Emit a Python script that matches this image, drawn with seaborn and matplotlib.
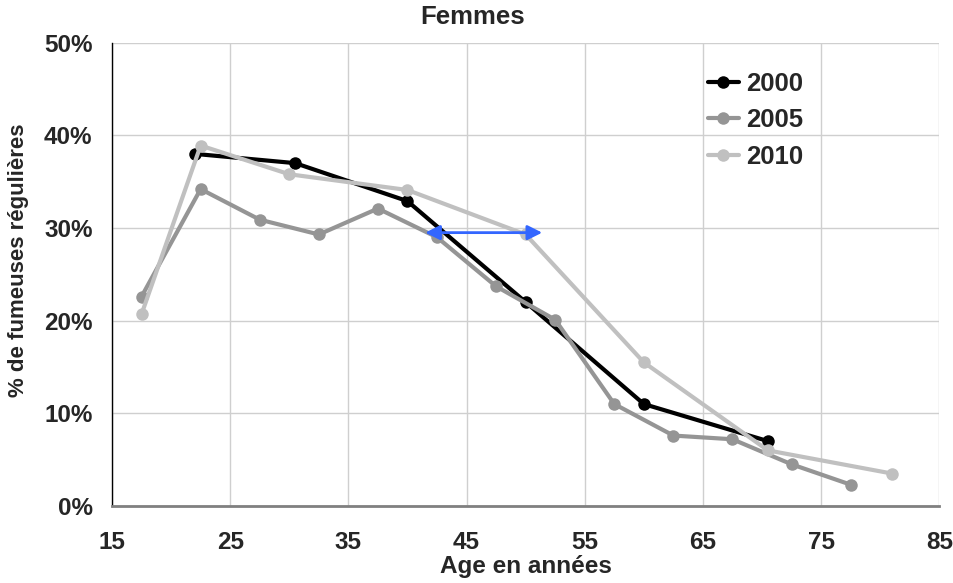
import matplotlib
matplotlib.use("Agg")
import matplotlib.pyplot as plt
from matplotlib.ticker import FuncFormatter, MultipleLocator
import pandas as pd
import seaborn as sns

# Share of regular female smokers by age, three survey years
ages_2000 = [22, 30.5, 40, 50, 60, 70.5]
pct_2000 = [38.0, 37.0, 32.9, 22.0, 11.0, 7.0]

ages_2005 = [17.5, 22.5, 27.5, 32.5, 37.5, 42.5, 47.5, 52.5, 57.5, 62.5, 67.5, 72.5, 77.5]
pct_2005 = [22.6, 34.2, 30.9, 29.3, 32.1, 29.0, 23.7, 20.1, 11.0, 7.6, 7.2, 4.5, 2.3]

ages_2010 = [17.5, 22.5, 30, 40, 50, 60, 70.5, 81]
pct_2010 = [20.7, 38.9, 35.8, 34.1, 29.3, 15.5, 6.0, 3.5]

years = ["2000", "2005", "2010"]
colors = {"2000": "#000000", "2005": "#959595", "2010": "#C0C0C0"}

# Horizontal shift between the 2005 and 2010 curves at ~29.5 %
shift_from = 41.5
shift_to = 51.4
shift_level = 29.5

x_ticks = [15, 25, 35, 45, 55, 65, 75, 85]

df = pd.concat([
    pd.DataFrame({"age": ages_2000, "pct": pct_2000, "year": "2000"}),
    pd.DataFrame({"age": ages_2005, "pct": pct_2005, "year": "2005"}),
    pd.DataFrame({"age": ages_2010, "pct": pct_2010, "year": "2010"}),
])

sns.set_theme(style="white")
plt.rcParams["font.family"] = ["Liberation Sans", "DejaVu Sans"]
plt.rcParams["font.weight"] = "bold"

fig = plt.figure(figsize=(9.54, 5.83), dpi=100)
ax = fig.add_axes([0.1174, 0.1321, 0.8672, 0.7947])

for y in years:
    sns.lineplot(
        data=df[df["year"] == y], x="age", y="pct", ax=ax,
        color=colors[y], marker="o", markersize=9, markeredgewidth=0,
        linewidth=3, sort=False, estimator=None, label=y, zorder=3,
    )

ax.annotate(
    "", xy=(shift_to, shift_level), xytext=(shift_from, shift_level),
    arrowprops=dict(arrowstyle="<|-|>", color="#3366FF", lw=2,
                    mutation_scale=22, shrinkA=0, shrinkB=0),
    zorder=5,
)

ax.set_xlim(15, 85)
ax.set_ylim(0, 50)
ax.set_xticks(x_ticks)
ax.yaxis.set_major_locator(MultipleLocator(10))
ax.yaxis.set_major_formatter(FuncFormatter(lambda v, _: f"{v:.0f}%"))

ax.grid(True, color="#CFCFCF", linewidth=1.0, zorder=0)
ax.set_axisbelow(True)
for side in ("top", "right"):
    ax.spines[side].set_visible(False)
ax.spines["left"].set_color("#000000")
ax.spines["left"].set_linewidth(1.0)
ax.spines["bottom"].set_color("#808080")
ax.spines["bottom"].set_linewidth(2.0)

ax.tick_params(axis="x", direction="out", length=6, width=1, color="#000000",
               labelsize=17.5, pad=12)
ax.tick_params(axis="y", direction="out", length=6, width=1, color="#808080",
               labelsize=17.5, pad=8)
for lab in ax.get_xticklabels() + ax.get_yticklabels():
    lab.set_fontweight("bold")

ax.set_xlabel("Age en années", fontsize=17.5, fontweight="bold", labelpad=1)
ax.set_ylabel("% de fumeuses régulières", fontsize=16, fontweight="bold")
ax.yaxis.set_label_coords(-0.100, 0.53)

fig.text(473 / 954, 1 - 23.5 / 583, "Femmes", ha="center", va="baseline",
         fontsize=18.5, fontweight="bold")

ax.legend(
    loc="upper left", bbox_to_anchor=(708 / 954, 1 - 72 / 583),
    bbox_transform=fig.transFigure, frameon=False,
    prop={"size": 18.5, "weight": "bold"}, handlelength=1.2,
    handletextpad=0.3, labelspacing=0.48, borderpad=0, borderaxespad=0,
)

fig.savefig("out.png", dpi=100)
